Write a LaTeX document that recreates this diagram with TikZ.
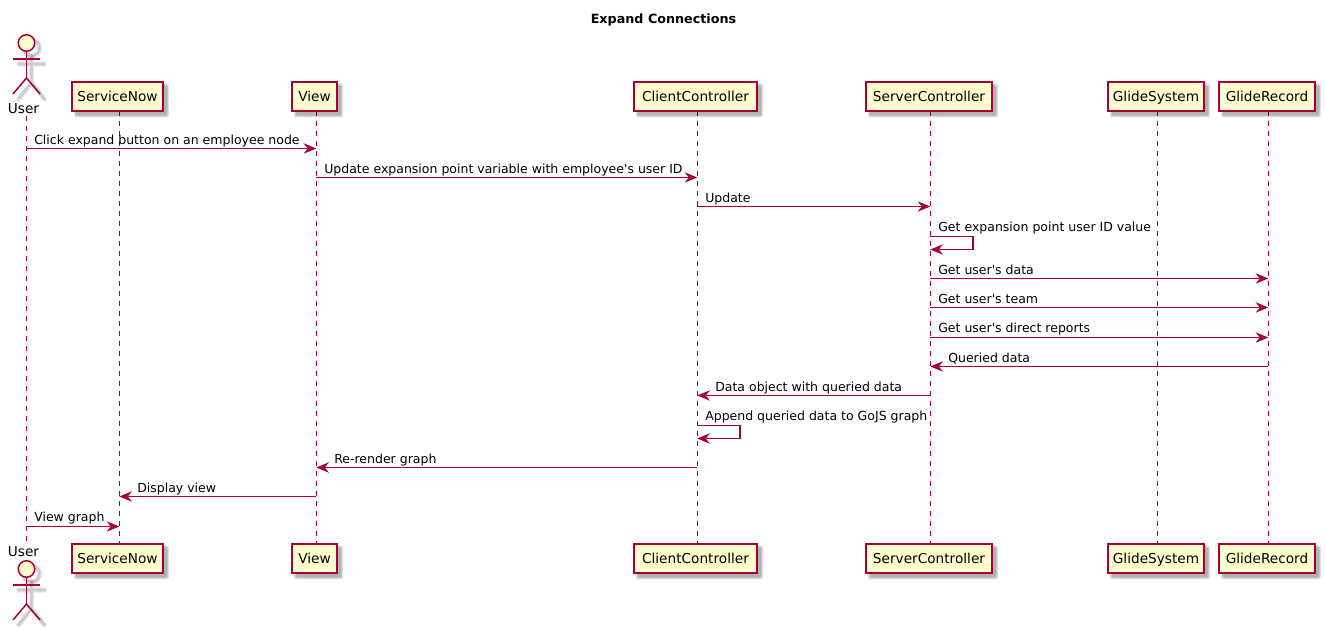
\documentclass[tikz,border=0pt]{standalone}
\usepackage{fontspec}
\newfontfamily\djsans{DejaVu Sans}
\usetikzlibrary{arrows.meta}
\definecolor{pline}{HTML}{A80036}
\definecolor{pfill}{HTML}{FEFECE}
\tikzset{
  x=0.75pt,y=-0.75pt,
  every node/.style={font=\djsans\fontsize{9.38pt}{11pt}\selectfont,text=black,inner sep=0pt},
  partname/.style={font=\djsans\fontsize{10.25pt}{12pt}\selectfont},
  boxshape/.style={draw=pline,fill=pfill,line width=1.125pt,minimum height=21.75pt,anchor=center,partname,text height=7.6pt,text depth=0.4pt},
  lifeline/.style={draw=pline,line width=0.85pt,dash pattern=on 3.75pt off 3.75pt},
  msgline/.style={draw=pline,line width=0.8pt,-{Stealth[length=9.5pt,width=7.8pt,inset=3.2pt,color=pline]}},
  msgtext/.style={anchor=base west},
  shade1/.style={fill=black,opacity=0.11,draw=none,rounded corners=1.5pt},
  actorline/.style={draw=pline,line width=1.125pt},
  actorshade/.style={draw=black,line cap=round},
}
\newcommand{\partbox}[5]{% name, centre x, width, y, text
  \foreach \e in {0,1,2}{\fill[shade1] ({#2-#3/2+4-\e},{#4-15+4-\e}) rectangle ({#2+#3/2+4+\e},{#4+15+4+\e});}
  \node[boxshape,minimum width=#3*0.75pt] (#1) at (#2,#4) {#5};
}
\newcommand{\actorfig}[2]{% prefix, y of head centre
  \begin{scope}[shift={(26.5,#2)}]
    \foreach \w/\o in {4.2/0.05,3/0.07,1.8/0.09}{
      \draw[actorshade,line width=\w pt,opacity=\o] (5,5) circle[radius=8];
      \draw[actorshade,line width=\w pt,opacity=\o] (5,13) -- (5,40) (-8,21) -- (18,21) (-8,56) -- (5,40) -- (18,56);
    }
    \node[circle,draw=pline,fill=pfill,line width=1.125pt,minimum size=12.4pt] (#1head) at (0,0) {};
    \coordinate (#1hip) at (0,35);
    \draw[actorline] (#1head.south) -- (#1hip);
    \coordinate (#1la) at (-13.5,16); \coordinate (#1ra) at (13.5,16);
    \draw[actorline] (#1la) -- (#1ra);
    \coordinate (#1ll) at (-13.5,51); \coordinate (#1rl) at (13.5,51);
    \draw[actorline] (#1ll) -- (#1hip) -- (#1rl);
  \end{scope}
}
\begin{document}
\begin{tikzpicture}
\useasboundingbox (0,0) rectangle (1325,630);
\fill[white] (0,0) rectangle (1325,630);
\node[font=\djsans\fontsize{9.55pt}{11pt}\selectfont\bfseries] (title) at (663.5,20) {Expand Connections};

% lifelines
\coordinate (uT) at (26.5,116); \coordinate (uB) at (26.5,543);
\coordinate (snT) at (119.3,111); \coordinate (snB) at (119.3,543);
\coordinate (vT) at (316.3,111); \coordinate (vB) at (316.3,543);
\coordinate (ccT) at (697.3,111); \coordinate (ccB) at (697.3,543);
\coordinate (scT) at (930.3,111); \coordinate (scB) at (930.3,543);
\coordinate (gsT) at (1157.3,111); \coordinate (gsB) at (1157.3,543);
\coordinate (grT) at (1268.3,111); \coordinate (grB) at (1268.3,543);
\foreach \n in {u,sn,v,cc,sc,gs,gr}{\draw[lifeline] (\n T) -- (\n B);}

% participants
\actorfig{top}{43}
\node[partname] (userT) at (23.5,109) {User};
\node[partname] (userB) at (23.5,552) {User};
\actorfig{bot}{569}
\partbox{snTop}{117.5}{91}{96.5}{ServiceNow}
\partbox{snBot}{117.5}{91}{558.5}{ServiceNow}
\partbox{vTop}{314.5}{45}{96.5}{View}
\partbox{vBot}{314.5}{45}{558.5}{View}
\partbox{ccTop}{695.5}{123}{96.5}{ClientController}
\partbox{ccBot}{695.5}{123}{558.5}{ClientController}
\partbox{scTop}{929}{126}{96.5}{ServerController}
\partbox{scBot}{929}{126}{558.5}{ServerController}
\partbox{gsTop}{1156}{96}{96.5}{GlideSystem}
\partbox{gsBot}{1156}{96}{558.5}{GlideSystem}
\partbox{grTop}{1267}{96}{96.5}{GlideRecord}
\partbox{grBot}{1267}{96}{558.5}{GlideRecord}

% messages
\draw[msgline] (uT |- 0,148.5) -- (vT |- 0,148.5);
\node[msgtext] (m1) at (34,145) {Click expand button on an employee node};
\draw[msgline] (vT |- 0,177.5) -- (ccT |- 0,177.5);
\node[msgtext] (m2) at (324,174) {Update expansion point variable with employee's user ID};
\draw[msgline] (ccT |- 0,206.5) -- (scT |- 0,206.5);
\node[msgtext] (m3) at (705,203) {Update};
\draw[msgline] (scT |- 0,236.5) -- (973,236.5) |- (scT |- 0,249.5);
\node[msgtext] (m4) at (938,232) {Get expansion point user ID value};
\draw[msgline] (scT |- 0,278.5) -- (grT |- 0,278.5);
\node[msgtext] (m5) at (938,275) {Get user's data};
\draw[msgline] (scT |- 0,307.5) -- (grT |- 0,307.5);
\node[msgtext] (m6) at (938,304) {Get user's team};
\draw[msgline] (scT |- 0,337.5) -- (grT |- 0,337.5);
\node[msgtext] (m7) at (938,333) {Get user's direct reports};
\draw[msgline] (grT |- 0,366.5) -- (scT |- 0,366.5);
\node[msgtext] (m8) at (948,363) {Queried data};
\draw[msgline] (scT |- 0,395.5) -- (ccT |- 0,395.5);
\node[msgtext] (m9) at (715,392) {Data object with queried data};
\draw[msgline] (ccT |- 0,425.5) -- (740,425.5) |- (ccT |- 0,438.5);
\node[msgtext] (m10) at (705,421) {Append queried data to GoJS graph};
\draw[msgline] (ccT |- 0,467.5) -- (vT |- 0,467.5);
\node[msgtext] (m11) at (334,464) {Re-render graph};
\draw[msgline] (vT |- 0,496.5) -- (snT |- 0,496.5);
\node[msgtext] (m12) at (137,493) {Display view};
\draw[msgline] (uT |- 0,526.5) -- (snT |- 0,526.5);
\node[msgtext] (m13) at (34,522) {View graph};
\end{tikzpicture}
\end{document}
